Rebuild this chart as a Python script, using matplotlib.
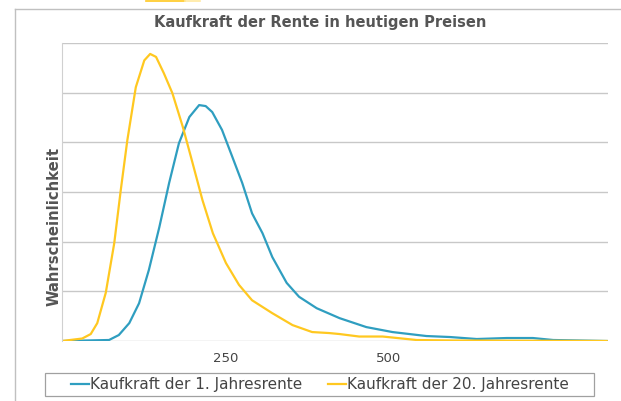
import matplotlib
matplotlib.use("Agg")
import matplotlib.pyplot as plt
from matplotlib.lines import Line2D
from matplotlib.patches import Rectangle

# Kaufkraft der 1. Jahresrente (blue)
x_blue = [0, 72, 87, 103, 118, 133, 149, 164, 179, 195, 210, 220, 230, 245, 261,
          276, 291, 307, 322, 344, 363, 390, 425, 466, 506, 558, 594, 635, 681,
          721, 752, 834]
y_blue = [0, 0.02, 0.12, 0.36, 0.76, 1.43, 2.29, 3.18, 3.98, 4.51, 4.75, 4.73,
          4.61, 4.25, 3.70, 3.18, 2.57, 2.17, 1.69, 1.17, 0.89, 0.66, 0.46, 0.28,
          0.18, 0.10, 0.08, 0.04, 0.06, 0.06, 0.02, 0.0]

# Kaufkraft der 20. Jahresrente (yellow)
x_yellow = [0, 31, 44, 54, 67, 80, 90, 100, 113, 126, 135, 144, 156, 169, 185,
            200, 215, 231, 251, 271, 291, 322, 353, 383, 409, 425, 455, 491, 543,
            600, 834]
y_yellow = [0, 0.05, 0.14, 0.36, 0.97, 1.97, 3.04, 4.04, 5.11, 5.65, 5.78, 5.72,
            5.39, 4.99, 4.31, 3.58, 2.84, 2.17, 1.57, 1.13, 0.82, 0.56, 0.32,
            0.18, 0.16, 0.14, 0.09, 0.09, 0.02, 0.01, 0.0]

xticks = [250, 500]
labels = ["Kaufkraft der 1. Jahresrente", "Kaufkraft der 20. Jahresrente"]
blue = "#2f9ec0"
gold = "#ffc820"
W, H = 621.0, 401.0

fig = plt.figure(figsize=(6.21, 4.01), dpi=100)
ax = fig.add_axes([62 / W, 1 - 341 / H, 546 / W, 298 / H])

ax.plot(x_blue, y_blue, color=blue, lw=1.6, label=labels[0])
ax.plot(x_yellow, y_yellow, color=gold, lw=1.6, label=labels[1])

ax.set_xlim(0, 836)
ax.set_ylim(0, 6)
ax.set_yticks(range(0, 7))
ax.set_yticklabels([])
ax.set_xticks(xticks)
ax.set_xticklabels([str(v) for v in xticks], color="#444444", fontsize=9.5)
ax.tick_params(length=0, pad=8)
ax.grid(axis="y", color="#c8c8c8", lw=1)
ax.set_axisbelow(True)
for s in ["top", "right", "bottom"]:
    ax.spines[s].set_visible(False)
ax.spines["left"].set_color("#d0d0d0")

ax.set_ylabel("Wahrscheinlichkeit", fontsize=10.7, fontweight="bold",
              color="#555555")
ax.yaxis.set_label_coords((61.5 - 62) / 546, (341 - 226) / 298)

fig.text(320 / W, 1 - 23 / H, "Kaufkraft der Rente in heutigen Preisen",
         ha="center", va="center", fontsize=10.5, fontweight="bold",
         color="#555555")

leg = fig.legend(loc="center", bbox_to_anchor=(320 / W, 1 - 384.5 / H),
                 ncol=2, fontsize=11, frameon=False,
                 handlelength=1.18, handletextpad=0.05, columnspacing=1.7)
for t in leg.get_texts():
    t.set_color("#444444")
fig.add_artist(Rectangle((45 / W, 1 - 396 / H), 549 / W, 23 / H,
                         fill=False, edgecolor="#a0a0a0", lw=0.9,
                         transform=fig.transFigure))

# outer frame of the chart box
fig.add_artist(Line2D([15 / W, 15 / W], [0, 1 - 9 / H],
                      color="#c0c0c0", lw=1, transform=fig.transFigure))
fig.add_artist(Line2D([15 / W, 1], [1 - 9 / H, 1 - 9 / H],
                      color="#c0c0c0", lw=1, transform=fig.transFigure))
fig.add_artist(Line2D([146 / W, 185 / W], [1 - 0.7 / H, 1 - 0.7 / H],
                      color=gold, lw=1.2, transform=fig.transFigure))
fig.add_artist(Line2D([185 / W, 200 / W], [1 - 0.7 / H, 1 - 0.7 / H],
                      color="#ffe9a0", lw=1.2, transform=fig.transFigure))

fig.savefig("out.png", dpi=100)
